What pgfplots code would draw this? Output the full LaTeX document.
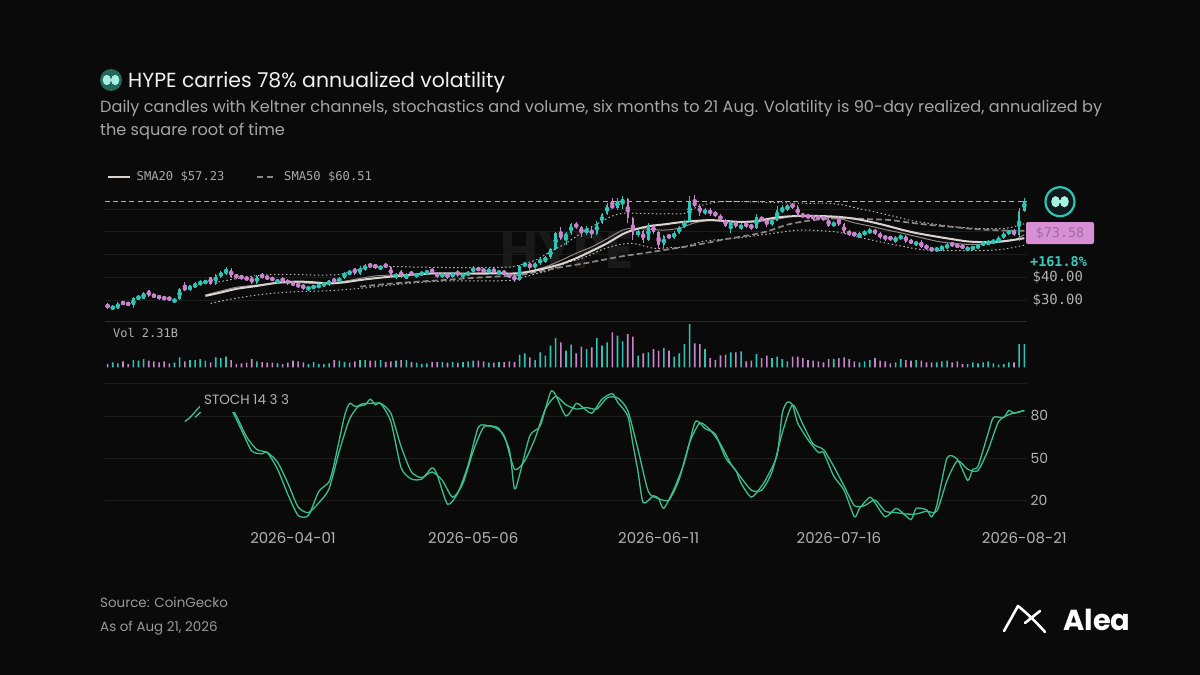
\documentclass[border=0pt]{standalone}
\usepackage{fontspec}
\setmainfont{Poppins}
\newfontfamily\mono{DejaVu Sans Mono}
\usepackage{pgfplots}
\pgfplotsset{compat=1.18}
\usepackage{pgfplotstable}
\newcommand\fs[1]{\fontsize{#1}{#1}\selectfont}
\definecolor{bg}{HTML}{0B0A0A}
\definecolor{upc}{HTML}{2EC4B6}
\definecolor{dnc}{HTML}{C985CB}
\definecolor{stochc}{HTML}{3CBF8E}
\definecolor{sma20}{HTML}{D9D4CF}
\definecolor{ema}{HTML}{8F8985}
\definecolor{sma50}{HTML}{8A8784}
\definecolor{band}{HTML}{B8B8B8}
\definecolor{gridc}{HTML}{1D1D1D}
\definecolor{sepc}{HTML}{2B2B2B}
\definecolor{pinkline}{HTML}{D49BD2}
\definecolor{tagfill}{HTML}{D88FD5}
\definecolor{tagtext}{HTML}{9E6A9E}
\definecolor{tickc}{HTML}{B3B3B3}
\definecolor{titlec}{HTML}{F2F2F2}
\definecolor{subc}{HTML}{A6A6A6}
\definecolor{footc}{HTML}{9A9A9A}
\definecolor{legc}{HTML}{A8A8A8}
\definecolor{wmark}{HTML}{1A1919}
\definecolor{mint}{HTML}{A6F2E0}
\definecolor{icond}{HTML}{25665A}
\definecolor{ringfill}{HTML}{0E1B1A}
\definecolor{pct}{HTML}{3CCBC0}

\pgfplotstableread{
d o h l c v
-36 28.2 28.6 26.0 26.6 330
-35 25.8 27.8 25.5 27.4 500
-34 26.2 29.0 25.9 28.6 400
-33 29.4 29.7 27.6 28.0 600
-32 29.0 29.3 27.2 27.6 330
-31 27.6 31.5 26.4 31.0 730
-30 30.2 32.3 29.9 31.8 670
-29 30.6 33.5 30.3 33.0 830
-28 34.2 34.5 31.3 31.8 670
-27 32.6 32.9 30.8 31.2 600
-26 32.0 32.3 30.2 30.6 500
-25 31.5 31.8 29.8 30.1 600
-24 31.3 31.6 29.6 29.9 400
-23 29.0 30.8 28.7 30.4 470
-22 30.4 35.4 30.0 35.0 1000
-21 35.8 37.9 33.8 34.2 600
-20 34.2 36.8 34.0 36.4 730
-19 35.4 37.9 35.1 37.4 730
-18 36.6 38.6 36.3 38.2 830
-17 37.2 39.0 36.9 38.6 670
-16 40.0 40.3 36.6 37.2 500
-15 37.2 41.6 36.8 41.2 1000
-14 40.0 42.8 39.7 42.4 930
-13 41.4 44.6 41.1 43.4 1070
-12 43.4 44.0 39.8 40.2 730
-11 41.2 41.5 39.4 39.8 330
-10 40.8 41.1 38.9 39.4 400
-9 40.2 40.5 38.4 38.8 470
-8 40.2 40.5 36.9 37.4 830
-7 37.4 41.0 37.0 40.6 600
-6 41.4 41.7 39.4 39.8 530
-5 40.6 40.9 38.8 39.2 470
-4 40.0 40.3 38.2 38.6 470
-3 37.5 39.4 37.2 38.9 400
-2 39.8 40.1 37.6 38.0 330
-1 38.8 39.1 36.8 37.2 470
0 38.0 38.3 36.0 36.4 670
1 37.2 37.5 35.4 35.8 600
2 36.6 36.9 34.6 35.2 500
3 34.4 36.2 34.1 35.8 330
4 35.0 36.8 34.7 36.4 530
5 35.4 37.2 35.1 36.8 330
6 36.0 38.0 35.7 37.6 330
7 36.6 39.0 36.3 38.6 400
8 39.4 39.7 37.4 37.8 730
9 37.8 40.2 37.6 39.8 670
10 39.8 42.4 39.4 42.0 530
11 41.2 43.4 40.9 42.8 470
12 44.0 44.3 41.2 41.6 600
13 41.6 44.8 41.2 44.2 730
14 43.2 45.8 42.9 45.2 730
15 46.0 46.3 44.0 44.6 670
16 45.6 45.9 43.8 44.2 670
17 43.5 45.4 43.2 44.9 730
18 45.9 46.2 44.0 44.5 530
19 44.5 44.9 40.2 40.6 600
20 39.6 42.0 39.3 41.6 670
21 42.8 43.1 39.8 40.4 730
22 39.4 41.8 39.1 41.4 730
23 42.4 42.7 40.6 41.0 530
24 40.2 42.0 39.9 41.6 470
25 40.8 42.8 40.5 42.4 330
26 41.4 43.4 41.1 42.8 400
27 43.6 43.9 41.8 42.2 530
28 42.2 42.4 39.6 40.2 530
29 40.2 42.0 39.8 41.6 530
30 41.6 41.8 39.4 40.0 470
31 40.0 42.4 39.8 41.8 530
32 42.8 43.1 40.2 40.8 470
33 40.0 42.0 39.7 41.6 530
34 40.8 42.8 40.5 42.4 600
35 42.4 44.8 42.0 44.2 670
36 44.2 44.6 42.6 43.0 670
37 43.8 44.1 41.8 42.2 600
38 42.2 44.0 41.8 43.6 470
39 43.6 44.0 41.8 42.4 470
40 41.4 43.4 41.1 42.8 530
41 42.8 43.2 41.0 41.4 530
42 41.4 41.8 39.6 40.2 600
43 40.2 41.6 38.0 38.8 530
44 38.8 45.4 38.2 45.0 1270
45 45.0 46.9 44.4 46.2 1400
46 46.2 46.6 43.4 44.0 1000
47 44.0 46.9 43.6 46.4 730
48 46.4 48.5 45.6 47.8 1500
49 46.8 49.6 46.5 48.8 1170
50 48.8 53.0 48.2 52.6 2170
51 52.6 60.0 52.2 59.5 2930
52 59.5 62.3 56.4 57.0 2500
53 57.0 59.8 54.4 59.4 1670
54 59.4 64.0 58.6 63.6 2270
55 63.6 64.2 61.4 62.0 1400
56 62.0 62.8 57.8 59.6 2070
57 59.6 62.6 58.8 61.0 1830
58 61.0 62.4 57.2 59.2 2000
59 59.2 64.6 58.8 63.8 2930
60 63.8 68.4 63.4 67.8 2170
61 67.8 72.8 67.4 71.8 2500
62 71.8 74.9 70.0 70.6 3500
63 70.6 74.8 69.8 73.6 3160
64 72.6 75.6 70.2 74.6 2600
65 74.6 75.0 63.8 66.2 3330
66 66.2 66.6 56.4 58.6 3060
67 58.6 61.4 57.6 60.4 1170
68 60.4 61.0 55.2 56.4 1400
69 56.4 64.0 56.0 62.8 1500
70 62.8 63.4 59.2 59.8 1830
71 59.8 60.2 52.4 54.2 1670
72 54.2 58.6 53.0 58.0 1930
73 58.8 59.1 56.8 57.4 1670
74 57.4 60.2 57.0 59.6 1070
75 59.6 62.8 59.2 62.0 1400
76 62.0 65.2 61.6 64.6 2310
77 64.6 76.0 64.2 73.0 4330
78 73.0 76.3 70.8 71.6 2400
79 71.6 72.4 67.2 68.2 2310
80 68.2 70.4 67.6 69.6 1830
81 69.6 70.4 67.2 68.0 930
82 68.8 69.1 66.4 67.2 730
83 67.2 67.8 64.8 65.4 1200
84 65.4 65.8 62.2 62.8 1270
85 62.8 64.6 59.6 64.2 1500
86 64.2 64.8 61.8 62.6 1500
87 61.2 63.8 60.9 63.2 1600
88 64.0 64.3 61.8 62.4 600
89 63.2 63.5 61.0 61.8 670
90 61.8 68.0 61.2 66.4 1330
91 66.4 66.8 64.6 65.2 930
92 65.2 65.8 62.2 63.6 1170
93 63.6 65.6 62.6 65.0 930
94 65.0 71.2 64.6 69.6 1070
95 68.6 71.8 68.3 70.6 830
96 69.6 72.4 69.3 71.6 600
97 72.4 72.7 70.2 70.8 1070
98 70.8 72.0 66.6 67.2 1070
99 68.0 68.3 66.0 66.6 930
100 67.6 67.9 65.6 66.2 730
101 67.2 67.5 65.4 65.8 670
102 67.0 67.3 65.2 65.6 600
103 66.8 67.1 64.8 65.4 500
104 65.4 66.6 62.0 62.6 830
105 62.6 64.6 62.2 64.0 830
106 64.8 67.2 62.8 63.4 930
107 63.4 63.8 59.0 59.6 1000
108 60.4 60.7 58.2 58.8 830
109 59.8 60.1 57.8 58.4 600
110 57.4 60.0 57.1 59.4 500
111 58.6 60.8 58.3 60.2 600
112 59.4 61.6 59.1 61.0 730
113 61.0 61.4 58.6 59.2 930
114 59.2 60.0 57.0 57.6 670
115 58.4 58.7 56.2 56.8 600
116 58.0 58.3 56.0 56.6 400
117 55.6 58.2 55.3 57.6 500
118 56.8 59.0 56.5 58.4 830
119 58.4 58.8 55.0 55.6 730
120 56.4 56.7 54.6 55.0 670
121 54.2 56.0 53.9 55.6 730
122 55.6 56.4 52.8 53.4 670
123 54.4 54.7 52.0 52.4 500
124 53.2 53.5 51.0 51.6 500
125 51.6 53.2 51.4 52.8 500
126 52.0 54.2 51.7 53.6 600
127 52.6 55.2 52.3 54.6 670
128 55.4 55.7 53.2 53.8 500
129 54.6 54.9 52.8 53.2 600
130 54.2 54.5 52.4 52.8 330
131 51.8 53.6 51.5 53.2 330
132 52.2 54.0 51.9 53.6 500
133 52.8 54.6 52.5 54.2 400
134 54.2 55.8 53.8 55.4 500
135 54.4 56.4 54.1 55.8 600
136 55.0 56.8 54.7 56.4 400
137 55.4 58.2 55.1 57.4 270
138 57.4 59.8 57.0 59.2 330
139 59.2 61.0 58.8 60.4 500
140 60.4 61.4 58.2 58.8 500
141 58.8 70.4 56.0 69.4 2310
142 69.4 75.0 68.8 73.58 2310
}\candles

\pgfplotstableread{
d s
-17 31.8
-14 33.3
-11 34.9
-7 36.2
-3 37.6
1 38.1
4 37.8
7 37.3
10 37.8
13 38.8
16 39.6
19 40.3
23 41.1
27 41.7
31 41.7
35 41.6
39 41.7
43 41.7
46 42.5
49 44.0
52 45.8
55 48.4
58 51.6
61 55.0
64 59.0
66 60.8
69 62.5
72 63.3
75 64.2
78 64.8
81 65.2
84 64.8
87 64.4
90 64.8
94 66.4
98 67.0
102 67.0
106 66.6
109 65.8
112 64.5
115 62.9
118 61.1
121 59.5
125 57.9
128 56.8
131 55.8
134 55.5
137 55.7
140 56.5
142 57.23
}\tblsmatw

\pgfplotstableread{
d e
-17 32.2
-14 34.0
-11 35.6
-7 36.6
-3 37.6
1 37.6
4 37.3
7 37.4
10 38.3
13 39.5
16 40.6
19 41.0
23 41.2
27 41.6
31 41.5
35 41.8
39 42.2
43 41.6
46 42.8
49 44.6
52 47.4
55 50.6
58 53.4
61 57.0
64 60.8
66 61.6
69 61.2
72 60.8
75 61.6
78 64.0
81 65.0
84 64.6
87 64.2
90 64.5
94 65.6
98 67.2
102 66.8
106 65.9
109 64.0
112 62.6
115 61.0
118 59.6
121 58.0
125 55.9
128 55.0
131 54.5
134 54.6
137 55.4
140 56.4
142 58.8
}\tblema

\pgfplotstableread{
d u
-16 37.3
-12 39.0
-8 40.5
-4 41.2
0 41.3
4 41.0
9 41.3
14 44.0
19 44.7
24 44.5
30 44.3
36 44.3
42 44.5
44 45.4
47 47.5
50 51.3
53 55.0
56 59.5
59 63.5
62 67.0
64 68.2
67 68.2
70 68.0
73 68.0
76 68.2
79 71.5
83 73.3
87 73.3
90 73.2
95 72.8
100 72.6
104 72.6
107 71.8
110 70.2
113 68.8
117 66.7
120 65.0
124 63.6
128 62.4
132 61.6
136 61.4
139 61.8
142 63.6
}\tblkup

\pgfplotstableread{
d w
-16 28.5
-12 30.4
-6 32.5
0 33.6
6 34.0
13 35.1
19 36.6
25 37.8
30 38.4
36 38.4
42 38.6
44 39.6
47 41.4
50 43.2
53 46.2
57 49.1
60 52.2
63 54.2
66 54.9
70 52.8
73 53.0
76 53.5
80 56.0
86 57.2
90 58.4
94 59.6
98 60.8
102 60.6
106 59.8
110 57.6
114 55.6
118 53.8
122 52.2
126 51.8
130 51.8
134 51.8
138 52.4
142 54.2
}\tblklow

\pgfplotstableread{
d f
13 35.9
16 36.6
20 37.4
25 38.2
30 38.9
34 39.6
40 40.4
44 41.0
47 42.2
50 43.6
54 45.2
57 46.3
60 47.6
64 49.3
68 50.6
72 52.0
76 53.4
80 55.0
84 56.8
88 58.3
92 60.2
96 63.2
100 64.9
104 65.8
108 66.0
112 65.6
116 65.2
120 64.0
124 63.0
128 62.2
132 61.3
136 60.8
140 60.5
142 60.51
}\tblsmafi

\pgfplotstableread{
d k
-21 76
-20 79
-19 83
-18 87
-16 92
-14 95
-12 85
-10 70
-8 55
-6 53
-5 54
-3 42
-1 24
1 9
3 9
5 26
7 33
8 46
10 80
11 89
12 87
14 88
15 92
16 88
17 89
19 76
21 43
23 35
25 35
27 43
28 38
30 17
32 25
34 45
36 72
38 73
40 71
42 56
43 28
44 38
46 66
48 73
50 97
51 95
53 80
55 89
56 87
58 82
60 92
62 96
63 90
65 80
66 60
67 40
68 18
70 23
71 21
72 14
74 28
76 47
78 75
79 75
80 71
82 67
84 50
86 41
87 32
89 22
91 30
92 36
94 52
95 82
96 90
97 88
98 75
100 63
102 54
103 54
105 37
107 27
109 8
110 14
112 22
113 18
115 8
117 14
118 12
120 6
121 14
123 13
124 8
125 16
127 50
129 49
131 34
132 42
133 44
135 68
136 79
138 79
139 84
140 82
142 84
}\tblstochK

\pgfplotstableread{
d s
-19 79
-17 86
-15 91
-13 91
-11 80
-9 65
-7 56
-5 54
-3 47
-1 32
1 15
3 11
5 18
7 28
9 55
11 78
13 88
15 89
17 89
19 82
21 58
23 40
25 36
27 40
29 34
31 22
33 32
35 55
37 72
39 72
41 66
43 42
45 48
47 64
49 85
51 94
53 88
55 85
57 86
59 85
61 93
63 93
65 84
67 56
69 26
71 21
73 20
75 35
77 61
79 75
81 70
83 60
85 46
87 36
89 27
91 27
93 40
95 68
97 88
99 74
101 60
103 56
105 44
107 30
109 16
111 16
113 20
115 12
117 11
119 10
121 10
123 12
125 12
127 34
129 48
131 42
133 41
135 56
137 76
139 81
141 83
142 84
}\tblstochD

\pgfplotsset{
  panel/.style={
    scale only axis, width=922.9bp,
    xmin=-36.6, xmax=142.6,
    axis line style={draw=none},
    major tick length=0pt,
    tick style={draw=none},
    grid style={gridc, line width=0.8bp},
  },
  candle/.style={only marks, mark=none, forget plot,
    error bars/y dir=both, error bars/y explicit, error bars/error mark=none},
}

\begin{document}
\begin{tikzpicture}[x=1bp,y=-1bp]
\useasboundingbox (0,0) rectangle (1200,675);
\fill[bg] (0,0) rectangle (1200,675);

% title block
\fill[icond] (111,80) circle (11);
\fill[mint] (106.8,80) ellipse (4.2 and 5.2);
\fill[mint] (115.2,80) ellipse (4.2 and 5.2);
\fill[mint] (106,78.6) rectangle (116,81.4);
\node[anchor=base west, inner sep=0, text=titlec, font=\fs{20.5}] at (128,87.5) {HYPE carries 78\% annualized volatility};
\node[anchor=base west, inner sep=0, text=subc, font=\fs{16.2}] at (100,113) {Daily candles with Keltner channels, stochastics and volume, six months to 21 Aug. Volatility is 90-day realized, annualized by};
\node[anchor=base west, inner sep=0, text=subc, font=\fs{16.2}] at (100,136) {the square root of time};

% legend
\draw[sma20, line width=2bp] (108,177) -- (130,177);
\node[anchor=west, inner sep=0, text=legc, font=\mono\fs{12.2}] at (136.5,177) {SMA20 \$57.23};
\draw[sma50, line width=1.6bp, dash pattern=on 6.7bp off 3.3bp] (256.7,177) -- (273.3,177);
\node[anchor=west, inner sep=0, text=legc, font=\mono\fs{12.2}] at (284,177) {SMA50 \$60.51};

% watermark
\node[text=wmark, font=\bfseries\fs{52}, inner sep=0] at (567,250) {HYPE};

% price panel
\begin{axis}[panel, at={(104.5bp,-189.9bp)}, anchor=north west, height=131.1bp,
  ymin=20.75, ymax=78.5, xtick=\empty,
  ytick={30,40}, yticklabels={\$30.00,\$40.00},
  yticklabel pos=right,
  yticklabel style={font=\mono\fs{14}, text=tickc, anchor=west, inner sep=0pt, xshift=5bp},
  extra y ticks={50,60,70}, extra y tick labels={},
  ymajorgrids]
\addplot[pinkline, line width=1bp, dash pattern=on 5bp off 3.3bp, forget plot] coordinates {(-36.6,73.58) (142.6,73.58)};
\addplot[band, line width=1bp, dash pattern=on 1.5bp off 2.5bp, smooth] table[x=d,y=u] {\tblkup};
\addplot[band, line width=1bp, dash pattern=on 1.5bp off 2.5bp, smooth] table[x=d,y=w] {\tblklow};
\addplot[sma50, line width=1.7bp, dash pattern=on 6bp off 3bp, smooth] table[x=d,y=f] {\tblsmafi};
\addplot[ema, line width=1bp, smooth] table[x=d,y=e] {\tblema};
\addplot[sma20, line width=2bp, smooth] table[x=d,y=s] {\tblsmatw};
% wicks
\addplot[candle, color=upc, restrict expr to domain={\thisrow{c}-\thisrow{o}}{0:1000},
  error bars/error bar style={color=upc, line width=0.9bp, solid, line cap=butt}]
  table[x=d, y expr={(\thisrow{h}+\thisrow{l})/2}, y error expr={(\thisrow{h}-\thisrow{l})/2}] {\candles};
\addplot[candle, color=dnc, restrict expr to domain={\thisrow{c}-\thisrow{o}}{-1000:-0.0001},
  error bars/error bar style={color=dnc, line width=0.9bp, solid, line cap=butt}]
  table[x=d, y expr={(\thisrow{h}+\thisrow{l})/2}, y error expr={(\thisrow{h}-\thisrow{l})/2}] {\candles};
% bodies
\addplot[candle, color=upc, restrict expr to domain={\thisrow{c}-\thisrow{o}}{0:1000},
  error bars/error bar style={color=upc, line width=2.4bp, solid, line cap=butt}]
  table[x=d, y expr={(\thisrow{o}+\thisrow{c})/2}, y error expr={abs(\thisrow{c}-\thisrow{o})/2}] {\candles};
\addplot[candle, color=dnc, restrict expr to domain={\thisrow{c}-\thisrow{o}}{-1000:-0.0001},
  error bars/error bar style={color=dnc, line width=2.4bp, solid, line cap=butt}]
  table[x=d, y expr={(\thisrow{o}+\thisrow{c})/2}, y error expr={abs(\thisrow{c}-\thisrow{o})/2}] {\candles};
\draw[sepc, line width=1bp] (rel axis cs:0,0) -- (rel axis cs:1,0);
\end{axis}

% volume panel
\begin{axis}[panel, at={(104.5bp,-321bp)}, anchor=north west, height=46.3bp,
  ymin=0, ymax=4630, xtick=\empty, ytick=\empty]
\addplot[ybar, bar width=1.6bp, bar shift=0pt, fill=upc, draw=none,
  restrict expr to domain={\thisrow{c}-\thisrow{o}}{0:1000}] table[x=d,y=v] {\candles};
\addplot[ybar, bar width=1.6bp, bar shift=0pt, fill=dnc, draw=none,
  restrict expr to domain={\thisrow{c}-\thisrow{o}}{-1000:-0.0001}] table[x=d,y=v] {\candles};
\end{axis}
\node[anchor=west, inner sep=0, text=tickc, font=\mono\fs{12}] at (113,333) {Vol 2.31B};

% stochastic panel
\begin{axis}[panel, at={(104.5bp,-383.8bp)}, anchor=north west, height=147bp,
  ymin=-2, ymax=103,
  xtick={0,35,71,106,142},
  xticklabels={2026-04-01,2026-05-06,2026-06-11,2026-07-16,2026-08-21},
  xticklabel style={font=\fs{15}, text=tickc, anchor=north, inner sep=0pt, yshift=-1bp},
  ytick={20,50,80}, yticklabels={20,50,80},
  yticklabel pos=right,
  yticklabel style={font=\fs{14}, text=tickc, anchor=west, inner sep=0pt, xshift=3bp},
  ymajorgrids]
\addplot[stochc, line width=1.3bp, smooth, tension=0.4] table[x=d,y=s] {\tblstochD};
\addplot[stochc, line width=1.3bp, smooth, tension=0.4] table[x=d,y=k] {\tblstochK};
\draw[gridc, line width=0.8bp] (rel axis cs:0,1) -- (rel axis cs:1,1);
\end{axis}
\node[anchor=west, fill=bg, inner xsep=4bp, inner ysep=0pt, minimum height=24bp, text=tickc, font=\fs{13.5}] at (200,399.5) {STOCH 14 3 3};

% right-side labels
\draw[upc, line width=2.2bp, fill=ringfill] (1060,201.7) circle (14.5);
\fill[mint] (1055.6,201.7) ellipse (4.4 and 5.6);
\fill[mint] (1064.4,201.7) ellipse (4.4 and 5.6);
\fill[mint] (1055,200.2) rectangle (1065,203.2);
\node[fill=tagfill, rounded corners=2bp, minimum width=68bp, minimum height=22bp, inner sep=0pt, text=tagtext, font=\mono\fs{13.5}] at (1060,233) {\$73.58};
\node[anchor=west, inner sep=0, text=pct, font=\mono\bfseries\fs{13.5}] at (1030,262) {+161.8\%};

% footer
\node[anchor=base west, inner sep=0, text=footc, font=\fs{13.5}] at (100,607) {Source: CoinGecko};
\node[anchor=base west, inner sep=0, text=footc, font=\fs{13.5}] at (100,631) {As of Aug 21, 2026};
% Alea logo
\draw[white, line width=2.6bp, line cap=round, line join=round] (1004,631) -- (1018,606) .. controls (1028,614) and (1038,624) .. (1045,632);
\draw[white, line width=2.6bp, line cap=round] (1025,623) -- (1040,611);
\node[anchor=base west, inner sep=0, text=white, font=\bfseries\fs{29}] at (1063,630.5) {Alea};
\end{tikzpicture}
\end{document}
